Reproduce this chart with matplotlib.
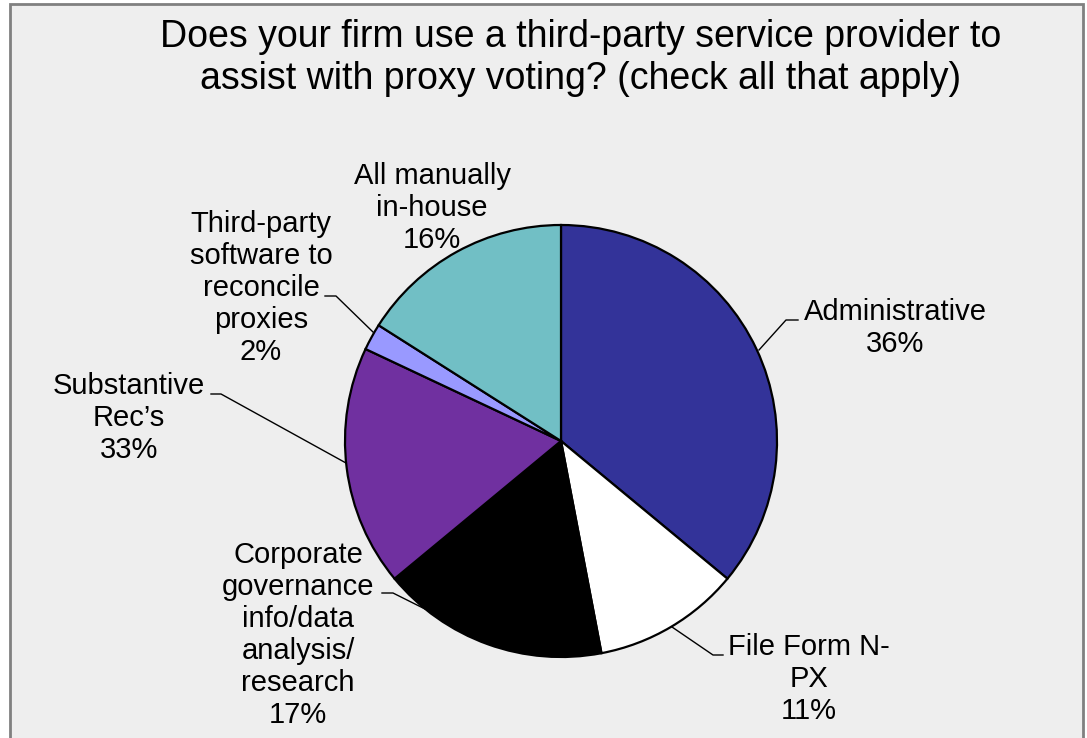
import matplotlib.pyplot as plt
from matplotlib.patches import Rectangle

# slice data (slice sizes as drawn, label percentages as printed)
categories = [
    "Administrative",
    "File Form N-\nPX",
    "Corporate\ngovernance\ninfo/data\nanalysis/\nresearch",
    "Substantive\nRec\u2019s",
    "Third-party\nsoftware to\nreconcile\nproxies",
    "All manually\nin-house",
]
slice_values = [36, 11, 17, 18, 2, 16]
label_pcts = [36, 11, 17, 33, 2, 16]
colors = ["#333399", "#FFFFFF", "#000000", "#7030A0", "#9999FF", "#71BFC5"]

title = "Does your firm use a third-party service provider to\nassist with proxy voting? (check all that apply)"

W, H = 1087, 738
fig = plt.figure(figsize=(W / 100, H / 100), dpi=100)
fig.patch.set_facecolor("white")
ax = fig.add_axes([0, 0, 1, 1])


def Y(y):
    # pixel row (from top) -> data y
    return H - y


# chart area background with grey frame
ax.add_patch(Rectangle((10, -10), 1073, Y(4) + 10, facecolor="#EEEEEE",
                       edgecolor="#808080", linewidth=2, zorder=0))

ax.pie(slice_values, colors=colors, startangle=90, counterclock=False,
       center=(561, Y(441)), radius=216, frame=True,
       wedgeprops=dict(edgecolor="black", linewidth=1.6))

ax.set_xlim(0, W)
ax.set_ylim(0, H)
ax.axis("off")

# label positions (pixel coords) and leader lines
label_pos = [(895, 328), (809, 679), (298, 635), (129, 418), (261, 288), (432, 208)]
leaders = [
    [(798, 320), (786, 320), (759, 350)],
    [(723, 655), (713, 655), (672, 627)],
    [(382, 593), (393, 593), (425, 609)],
    [(211, 394), (221, 394), (346, 463)],
    [(325, 296), (336, 296), (373, 332)],
    None,
]

for cat, pct, (x, y), lead in zip(categories, label_pcts, label_pos, leaders):
    ax.text(x, Y(y), f"{cat}\n{pct}%", ha="center", va="center", ma="center",
            fontsize=21, linespacing=1.19, family="Liberation Sans", zorder=5)
    if lead:
        ax.plot([p[0] for p in lead], [Y(p[1]) for p in lead],
                color="black", linewidth=1, zorder=4)

ax.text(581, Y(58), title, ha="center", va="center", ma="center",
        fontsize=27, linespacing=1.2, family="Liberation Sans")

plt.savefig("out.png", dpi=100)
